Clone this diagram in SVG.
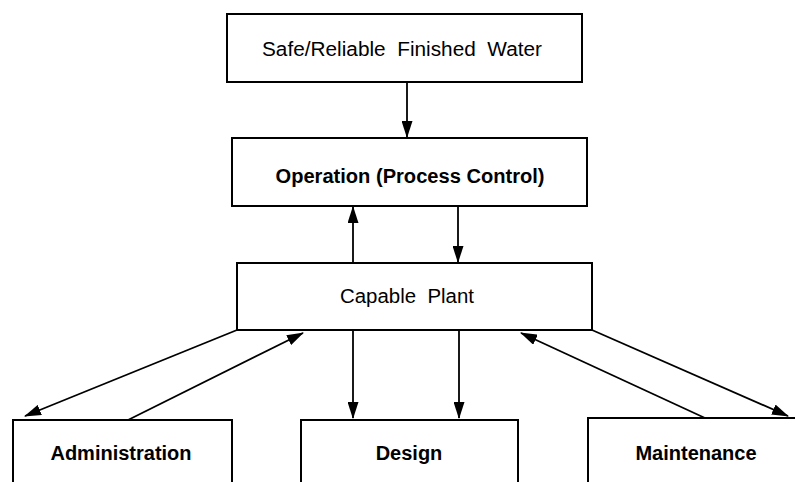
<svg xmlns="http://www.w3.org/2000/svg" width="795" height="482" viewBox="0 0 795 482">
<style>
.box{fill:#fff;stroke:#000;stroke-width:2}
.t{font-family:"Liberation Sans",Arial,sans-serif;font-size:20px;fill:#000;text-anchor:middle}
.b{font-weight:bold}
.p{white-space:pre}
.c{stroke:#000;stroke-width:1.8;fill:none;marker-end:url(#ah)}
</style>
<defs>
<marker id="ah" markerUnits="userSpaceOnUse" markerWidth="17" markerHeight="11" refX="16" refY="5.5" orient="auto" viewBox="0 0 17 11">
<path d="M0,0 L17,5.5 L0,11 z" fill="#000"/>
</marker>
</defs>
<rect width="795" height="482" fill="#fff"/>
<g id="connectors">
<line class="c" x1="407" y1="82" x2="407" y2="137"/>
<line class="c" x1="353" y1="263" x2="353" y2="207"/>
<line class="c" x1="458" y1="206" x2="458" y2="262"/>
<line class="c" x1="353" y1="330" x2="353" y2="418"/>
<line class="c" x1="459" y1="330" x2="459" y2="418"/>
<line class="c" x1="237" y1="330" x2="25" y2="416"/>
<line class="c" x1="128" y1="420" x2="303" y2="333"/>
<line class="c" x1="592" y1="330" x2="788" y2="416"/>
<line class="c" x1="705" y1="418" x2="521" y2="333"/>
</g>
<g id="finished-water">
<rect class="box" x="227" y="14" width="355" height="68" stroke-width="2.5"/>
<text class="t p" x="402" y="56" textLength="280" lengthAdjust="spacingAndGlyphs">Safe/Reliable  Finished  Water</text>
</g>
<g id="operation">
<rect class="box" x="232" y="138" width="355" height="68"/>
<text class="t b" x="410" y="183" textLength="269" lengthAdjust="spacingAndGlyphs">Operation (Process Control)</text>
</g>
<g id="capable-plant">
<rect class="box" x="237" y="263" width="355" height="67"/>
<text class="t p" x="407" y="303" textLength="134" lengthAdjust="spacingAndGlyphs">Capable  Plant</text>
</g>
<g id="administration">
<rect class="box" x="13" y="420" width="219" height="80"/>
<text class="t b" x="121" y="460">Administration</text>
</g>
<g id="design">
<rect class="box" x="301" y="420" width="217" height="80"/>
<text class="t b" x="409" y="460">Design</text>
</g>
<g id="maintenance">
<rect class="box" x="588" y="418" width="220" height="82"/>
<text class="t b" x="696" y="460">Maintenance</text>
</g>
</svg>
